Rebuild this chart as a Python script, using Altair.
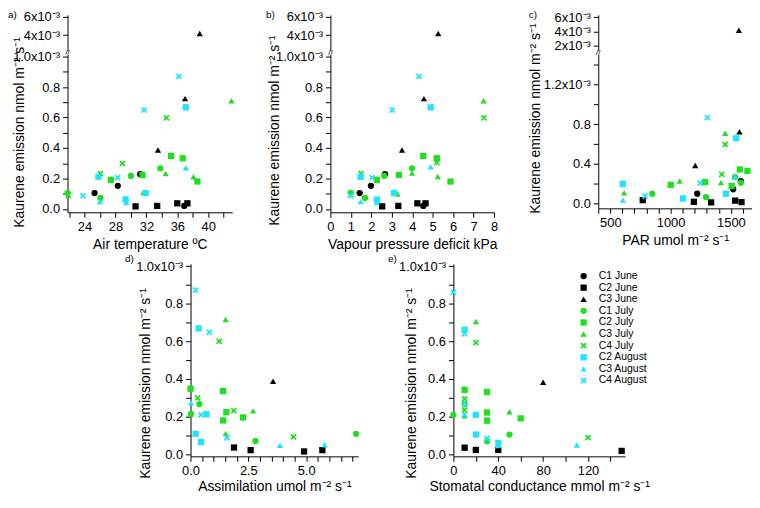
import altair as alt
import pandas as pd

SERIES = ["C1 June", "C2 June", "C3 June", "C1 July", "C2 July", "C3 July",
          "C4 July", "C2 August", "C3 August", "C4 August"]
BLACK, GREEN, CYAN = "#000000", "#1fe01f", "#20e4fc"
COLORS = [BLACK, BLACK, BLACK, GREEN, GREEN, GREEN, GREEN, CYAN, CYAN, CYAN]
X_PATH = "M-1,-0.6L-0.6,-1L0,-0.4L0.6,-1L1,-0.6L0.4,0L1,0.6L0.6,1L0,0.4L-0.6,1L-1,0.6L-0.4,0Z"
SHAPES = ["circle", "square", "triangle-up", "circle", "square", "triangle-up",
          X_PATH, "square", "triangle-up", X_PATH]

# (series, x value, kaurene emission in 1e-3 nmol m-2 s-1)
AIR_T = [
    ("C1 June", 31.2, 0.228), ("C1 June", 28.3, 0.152), ("C1 June", 25.3, 0.104), ("C1 June", 36.9, 0.020),
    ("C2 June", 30.6, 0.017), ("C2 June", 33.4, 0.020), ("C2 June", 36.0, 0.037), ("C2 June", 37.3, 0.037),
    ("C3 June", 38.9, 4.17), ("C3 June", 37.0, 0.724), ("C3 June", 33.5, 0.387),
    ("C1 July", 33.8, 0.267), ("C1 July", 30.0, 0.217), ("C1 July", 21.8, 0.104), ("C1 July", 26.05, 0.072),
    ("C2 July", 35.2, 0.348), ("C2 July", 36.7, 0.333), ("C2 July", 38.6, 0.180), ("C2 July", 31.5, 0.222), ("C2 July", 27.4, 0.191),
    ("C3 July", 43.0, 0.710), ("C3 July", 34.5, 0.232), ("C3 July", 38.1, 0.211), ("C3 July", 31.6, 0.108),
    ("C4 July", 28.9, 0.298), ("C4 July", 26.05, 0.232), ("C4 July", 34.6, 0.598), ("C4 July", 21.9, 0.090),
    ("C2 August", 37.1, 0.667), ("C2 August", 25.8, 0.211), ("C2 August", 31.9, 0.104), ("C2 August", 29.3, 0.063),
    ("C3 August", 37.1, 0.271), ("C3 August", 26.0, 0.048), ("C3 August", 29.4, 0.043),
    ("C4 August", 36.2, 0.870), ("C4 August", 31.7, 0.649), ("C4 August", 28.3, 0.206), ("C4 August", 23.8, 0.087),
]
VPD = [
    ("C1 June", 2.67, 0.228), ("C1 June", 1.98, 0.152), ("C1 June", 1.43, 0.104), ("C1 June", 4.54, 0.020),
    ("C2 June", 2.53, 0.017), ("C2 June", 3.32, 0.020), ("C2 June", 4.25, 0.037), ("C2 June", 4.65, 0.037),
    ("C3 June", 5.27, 4.17), ("C3 June", 4.57, 0.724), ("C3 June", 3.50, 0.387),
    ("C1 July", 3.99, 0.267), ("C1 July", 2.63, 0.217), ("C1 July", 0.99, 0.106), ("C1 July", 1.69, 0.072),
    ("C2 July", 4.54, 0.348), ("C2 July", 5.20, 0.333), ("C2 July", 5.87, 0.180), ("C2 July", 3.35, 0.224), ("C2 July", 2.27, 0.191),
    ("C3 July", 7.49, 0.710), ("C3 July", 3.99, 0.235), ("C3 July", 5.25, 0.213), ("C3 July", 3.28, 0.098),
    ("C4 July", 5.20, 0.304), ("C4 July", 1.50, 0.232), ("C4 July", 7.50, 0.598), ("C4 July", 1.00, 0.090),
    ("C2 August", 4.90, 0.667), ("C2 August", 1.48, 0.211), ("C2 August", 3.11, 0.106), ("C2 August", 2.27, 0.061),
    ("C3 August", 4.90, 0.276), ("C3 August", 1.48, 0.048), ("C3 August", 2.27, 0.043),
    ("C4 August", 4.33, 0.870), ("C4 August", 3.02, 0.649), ("C4 August", 2.04, 0.206), ("C4 August", 0.99, 0.087),
]
PAR = [
    ("C1 June", 1582, 0.228), ("C1 June", 1519, 0.145), ("C1 June", 1221, 0.100),
    ("C2 June", 769, 0.035), ("C2 June", 1193, 0.018), ("C2 June", 1336, 0.012), ("C2 June", 1535, 0.030), ("C2 June", 1588, 0.015),
    ("C3 June", 1566, 4.14), ("C3 June", 1571, 0.725), ("C3 June", 1204, 0.385),
    ("C1 July", 1582, 0.210), ("C1 July", 1294, 0.065), ("C1 July", 848, 0.100), ("C1 July", 1535, 0.267),
    ("C2 July", 1574, 0.345), ("C2 July", 1637, 0.330), ("C2 July", 1506, 0.178), ("C2 July", 1286, 0.218), ("C2 July", 1001, 0.190),
    ("C3 July", 1453, 0.710), ("C3 July", 1418, 0.212), ("C3 July", 1075, 0.228), ("C3 July", 615, 0.108),
    ("C4 July", 1453, 0.598), ("C4 July", 1424, 0.295),
    ("C2 August", 1543, 0.660), ("C2 August", 604, 0.200), ("C2 August", 1459, 0.100), ("C2 August", 1103, 0.052),
    ("C3 August", 1535, 0.268), ("C3 August", 604, 0.035),
    ("C4 August", 1305, 0.868), ("C4 August", 1245, 0.208), ("C4 August", 788, 0.075),
]
ASSIM = [
    ("C2 June", 1.88, 0.035), ("C2 June", 2.60, 0.021), ("C2 June", 4.91, 0.014), ("C2 June", 5.70, 0.021),
    ("C3 June", 3.57, 0.388),
    ("C1 July", 0.38, 0.266), ("C1 July", 0.02, 0.214), ("C1 July", 2.81, 0.070), ("C1 July", 7.16, 0.108),
    ("C2 July", 0.00, 0.348), ("C2 July", 1.41, 0.335), ("C2 July", 1.55, 0.223), ("C2 July", 2.27, 0.195), ("C2 July", 1.41, 0.179),
    ("C3 July", 1.52, 0.716), ("C3 July", 2.70, 0.230), ("C3 July", 1.52, 0.109), ("C3 July", 0.00, 0.211),
    ("C4 July", 0.31, 0.299), ("C4 July", 1.24, 0.600), ("C4 July", 1.87, 0.231), ("C4 July", 4.45, 0.092),
    ("C2 August", 0.35, 0.669), ("C2 August", 0.69, 0.212), ("C2 August", 0.22, 0.108), ("C2 August", 0.45, 0.064),
    ("C3 August", 0.02, 0.273), ("C3 August", 3.87, 0.047), ("C3 August", 5.80, 0.050),
    ("C4 August", 0.21, 0.873), ("C4 August", 0.81, 0.648), ("C4 August", 0.45, 0.209), ("C4 August", 1.58, 0.087),
]
COND = [
    ("C2 June", 10, 0.034), ("C2 June", 20, 0.022), ("C2 June", 40, 0.022), ("C2 June", 150, 0.017),
    ("C3 June", 80, 0.382),
    ("C1 July", 10, 0.266), ("C1 July", 0, 0.209), ("C1 July", 30, 0.069), ("C1 July", 50, 0.104),
    ("C2 July", 10, 0.342), ("C2 July", 30, 0.330), ("C2 July", 30, 0.221), ("C2 July", 30, 0.178), ("C2 July", 60, 0.190),
    ("C3 July", 20, 0.706), ("C3 July", 50, 0.225), ("C3 July", 10, 0.204),
    ("C4 July", 20, 0.593), ("C4 July", 10, 0.294), ("C4 July", 10, 0.235), ("C4 July", 120, 0.088),
    ("C2 August", 10, 0.662), ("C2 August", 20, 0.209), ("C2 August", 20, 0.104), ("C2 August", 40, 0.060),
    ("C3 August", 10, 0.270), ("C3 August", 110, 0.048), ("C3 August", 40, 0.045),
    ("C4 August", 0, 0.861), ("C4 August", 10, 0.640), ("C4 August", 10, 0.209), ("C4 August", 30, 0.083),
]

FONT = "Liberation Sans"
Y_TITLE = "Kaurene emission nmol m\u207b\u00b2 s\u207b\u00b9"
SUP = "x10\u207b\u00b3"
BREAK = 2.0

color_scale = alt.Scale(domain=SERIES, range=COLORS)
shape_scale = alt.Scale(domain=SERIES, range=SHAPES)
LEGEND = alt.Legend(title=None)


def frame(rows):
    return pd.DataFrame(rows, columns=["series", "x", "y"])


def pts(df, xdom, ydom, xaxis, yaxis):
    return alt.Chart(df).mark_point(filled=True, opacity=1, size=40).encode(
        x=alt.X("x:Q", scale=alt.Scale(domain=xdom, nice=False, zero=False), axis=xaxis),
        y=alt.Y("y:Q", scale=alt.Scale(domain=ydom, nice=False, zero=False), axis=yaxis),
        color=alt.Color("series:N", scale=color_scale, legend=LEGEND),
        shape=alt.Shape("series:N", scale=shape_scale, legend=LEGEND),
    )


def tag(text, dx, dy, size=10, align="left"):
    return alt.Chart(pd.DataFrame({"t": [text]})).mark_text(
        align=align, baseline="middle", font=FONT, fontSize=size
    ).encode(x=alt.value(dx), y=alt.value(dy), text="t:N")


def gap(w, h=1):
    return alt.Chart(pd.DataFrame({"s": [0]})).mark_point(opacity=0, size=1).encode(
        x=alt.value(0), y=alt.value(0)).properties(width=w, height=h)


def xaxis(title, values, expr, w, ty):
    return alt.Axis(values=values, labelExpr=expr, title=title, titleX=w / 2, titleY=ty,
                    titleBaseline="middle", titleAlign="center")


def yaxis(values, expr, tx, ty):
    return alt.Axis(values=values, labelExpr=expr, title=Y_TITLE, titleX=tx, titleY=ty,
                    titleAngle=270, titleBaseline="middle", titleAlign="center")


LOW_TICKS = [round(i * 0.1, 1) for i in range(11)]
LOW_EXPR = ("datum.value > 0.99 ? '1.0" + SUP + "' : "
            "(round(datum.value * 10) % 2 == 0 ? format(datum.value, '.1f') : '')")


def broken_panel(rows, letter, tag_dx, xdom, xtitle, xvals, xexpr, w,
                 up_dom, up_vals, low_dom, low_vals, low_expr, low_h, tx, ty):
    df = frame(rows)
    up = df[df.y > BREAK]
    low = df[df.y <= BREAK]
    upper = alt.layer(
        pts(up, xdom, up_dom, None,
            alt.Axis(values=up_vals, labelExpr="datum.value + '" + SUP + "'", title=None)),
        tag(letter, tag_dx, 0),
    ).properties(width=w, height=36)
    lower = alt.layer(
        pts(low, xdom, low_dom, xaxis(xtitle, xvals, xexpr, w, 32),
            yaxis(low_vals, low_expr, tx, ty)),
        tag("//", 0, -2, size=8, align="center"),
    ).properties(width=w, height=low_h)
    return upper, lower


a_up, a_low = broken_panel(
    AIR_T, "a)", -60, [21.8, 43.1], "Air temperature \u00baC", list(range(22, 43, 2)),
    "datum.value % 4 == 0 ? datum.label : ''", 166,
    [2.3, 6.2], [4, 6], [-0.022, 1.013], LOW_TICKS, LOW_EXPR, 159, -48, 78)

b_up, b_low = broken_panel(
    VPD, "b)", -65, [0, 8], "Vapour pressure deficit kPa", list(range(0, 9)),
    "datum.label", 165,
    [2.3, 6.2], [4, 6], [-0.022, 1.013], LOW_TICKS, LOW_EXPR, 159, -56, 76)

c_up, c_low = broken_panel(
    PAR, "c)", -70, [400, 1675], "PAR  umol m\u207b\u00b2 s\u207b\u00b9", list(range(400, 1700, 100)),
    "datum.value % 500 == 0 ? toString(datum.value) : ''", 155,
    [1.3, 6.3], [2, 4, 6], [-0.048, 1.505], [round(i * 0.2, 1) for i in range(8)],
    "abs(datum.value - 1.2) < 0.01 ? '1.2" + SUP + "' : "
    "(round(datum.value * 10) % 4 == 0 ? format(datum.value, '.1f') : '')", 155, -63, 64)


def plain_panel(rows, letter, xdom, xtitle, xvals, xexpr, w, tx, ty, xty):
    df = frame(rows)
    return alt.layer(
        pts(df, xdom, [-0.012, 1.012], xaxis(xtitle, xvals, xexpr, w, xty),
            yaxis(LOW_TICKS, LOW_EXPR, tx, ty)),
        tag(letter, -66, -5),
    ).properties(width=w, height=194)


panel_d = plain_panel(
    ASSIM, "d)", [0, 7.25], "Assimilation umol m\u207b\u00b2 s\u207b\u00b9",
    [round(i * 0.5, 1) for i in range(15)],
    "round(datum.value * 10) % 25 == 0 ? format(datum.value, '.1f') : ''", 169, -45, 120, 30)

panel_e = plain_panel(
    COND, "e)", [0, 153], "Stomatal conductance  mmol m\u207b\u00b2 s\u207b\u00b9",
    list(range(0, 141, 20)),
    "datum.value % 40 == 0 ? toString(datum.value) : ''", 173, -42, 120, 30)

top = alt.concat(
    a_up, gap(99), b_up, gap(105), c_up,
    gap(1, 4), gap(1, 4), gap(1, 4), gap(1, 4), gap(1, 4),
    a_low, gap(99), b_low, gap(105), c_low,
    columns=5, spacing=0, bounds="flush", align="each",
)
bottom = alt.hconcat(gap(124), panel_d, gap(96), panel_e, spacing=0, bounds="flush")

chart = alt.vconcat(top, bottom, spacing=3).resolve_scale(
    color="shared", shape="shared"
).properties(
    padding={"left": 0, "top": 0, "right": 0, "bottom": 0}
).configure_view(stroke=None).configure_axis(
    domainColor="black", tickColor="black", labelColor="black", titleColor="black",
    labelFont=FONT, titleFont=FONT, labelFontSize=13, titleFontSize=14,
    titleFontWeight="normal", grid=False, tickSize=5, labelPadding=3,
    labelFlush=False, labelOverlap=False, domainWidth=1, tickWidth=1,
).configure_legend(
    orient="none", legendX=515, legendY=258, labelFont=FONT, labelFontSize=10.5,
    labelColor="black", symbolSize=40, rowPadding=0.7, padding=0, labelOffset=10,
    symbolStrokeWidth=0,
)

chart.save("out.html", embed_options={"renderer": "svg", "actions": False})
